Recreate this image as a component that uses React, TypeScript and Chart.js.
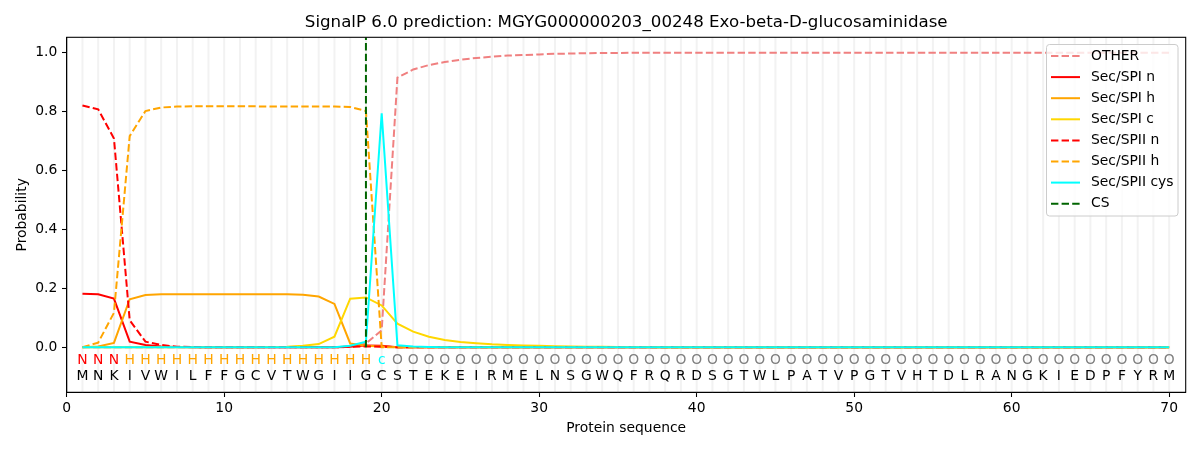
import React, { useEffect, useRef } from "react";
import { Chart, registerables } from "chart.js";

Chart.register(...registerables);

const TITLE = "SignalP 6.0 prediction: MGYG000000203_00248 Exo-beta-D-glucosaminidase";
const X_TITLE = "Protein sequence";
const Y_TITLE = "Probability";

const SEQUENCE = "MNKIVWILFFGCVTWGIIGCSTEKEIRMELNSGWQFRQRDSGTWLPATVPGTVHTDLRANGKIEDPFYRM".split("");
const REGION_LABELS = [
  "N", "N", "N",
  "H", "H", "H", "H", "H", "H", "H", "H", "H", "H", "H", "H", "H", "H", "H", "H",
  "c",
  ...Array(50).fill("O"),
];
const POSITIONS = SEQUENCE.map((_, i) => i + 1);

const X_TICKS = [0, 10, 20, 30, 40, 50, 60, 70];
const Y_TICKS = [0, 0.2, 0.4, 0.6, 0.8, 1.0];

const OTHER = [
  0, 0, 0, 0, 0, 0, 0, 0, 0, 0, 0, 0, 0, 0, 0, 0, 0, 0.001, 0.013, 0.058,
  0.914, 0.942, 0.957, 0.967, 0.975, 0.981, 0.985, 0.989, 0.991, 0.993,
  0.995, 0.996, 0.997, 0.998, 0.998, 0.999, 0.999, 0.999, 0.999, 0.999,
  0.999, 0.999, 0.999, 0.999, 0.999, 0.999, 0.999, 0.999, 0.999, 0.999,
  0.999, 0.999, 0.999, 0.999, 0.999, 0.999, 0.999, 0.999, 0.999, 0.999,
  0.999, 0.999, 0.999, 0.999, 0.999, 0.999, 0.999, 0.999, 0.999, 0.999,
];
const SPI_N = [
  0.182, 0.180, 0.165, 0.019, 0.008, 0.003, 0.001, 0, 0, 0, 0, 0, 0, 0, 0, 0, 0, 0.003, 0.006, 0.005,
  0, 0, 0, 0, 0, 0, 0, 0, 0, 0, 0, 0, 0, 0, 0, 0, 0, 0, 0, 0,
  0, 0, 0, 0, 0, 0, 0, 0, 0, 0, 0, 0, 0, 0, 0, 0, 0, 0, 0, 0,
  0, 0, 0, 0, 0, 0, 0, 0, 0, 0,
];
const SPI_H = [
  0, 0.003, 0.015, 0.163, 0.177, 0.180, 0.180, 0.180, 0.180, 0.180, 0.180, 0.180, 0.180, 0.180, 0.178, 0.172, 0.147, 0.013, 0.005, 0.003,
  0, 0, 0, 0, 0, 0, 0, 0, 0, 0, 0, 0, 0, 0, 0, 0, 0, 0, 0, 0,
  0, 0, 0, 0, 0, 0, 0, 0, 0, 0, 0, 0, 0, 0, 0, 0, 0, 0, 0, 0,
  0, 0, 0, 0, 0, 0, 0, 0, 0, 0,
];
const SPI_C = [
  0, 0, 0, 0, 0, 0, 0, 0, 0, 0, 0, 0, 0.001, 0.002, 0.005, 0.011, 0.036, 0.165, 0.169, 0.142,
  0.080, 0.053, 0.036, 0.025, 0.018, 0.014, 0.010, 0.008, 0.006, 0.005,
  0.004, 0.003, 0.002, 0.002, 0.001, 0.001, 0.001, 0, 0, 0,
  0, 0, 0, 0, 0, 0, 0, 0, 0, 0, 0, 0, 0, 0, 0, 0, 0, 0, 0, 0,
  0, 0, 0, 0, 0, 0, 0, 0, 0, 0,
];
const SPII_N = [
  0.820, 0.807, 0.708, 0.092, 0.019, 0.008, 0.002, 0.001, 0, 0, 0, 0, 0, 0, 0, 0, 0, 0.002, 0.003, 0.002,
  0, 0, 0, 0, 0, 0, 0, 0, 0, 0, 0, 0, 0, 0, 0, 0, 0, 0, 0, 0,
  0, 0, 0, 0, 0, 0, 0, 0, 0, 0, 0, 0, 0, 0, 0, 0, 0, 0, 0, 0,
  0, 0, 0, 0, 0, 0, 0, 0, 0, 0,
];
const SPII_H = [
  0, 0.016, 0.117, 0.716, 0.801, 0.813, 0.816, 0.817, 0.817, 0.817, 0.817, 0.817, 0.816, 0.816, 0.816, 0.816, 0.816, 0.815, 0.801, 0,
  0, 0, 0, 0, 0, 0, 0, 0, 0, 0, 0, 0, 0, 0, 0, 0, 0, 0, 0, 0,
  0, 0, 0, 0, 0, 0, 0, 0, 0, 0, 0, 0, 0, 0, 0, 0, 0, 0, 0, 0,
  0, 0, 0, 0, 0, 0, 0, 0, 0, 0,
];
const SPII_CYS = [
  0, 0, 0, 0, 0, 0, 0, 0, 0, 0, 0, 0, 0, 0, 0, 0, 0, 0.005, 0.019, 0.793,
  0.007, 0.003, 0.001, 0, 0, 0, 0, 0, 0, 0, 0, 0, 0, 0, 0, 0, 0, 0, 0, 0,
  0, 0, 0, 0, 0, 0, 0, 0, 0, 0, 0, 0, 0, 0, 0, 0, 0, 0, 0, 0,
  0, 0, 0, 0, 0, 0, 0, 0, 0, 0,
];
const CS_POSITION = 19;
const CS_Y = [0, 1.051];

const FONT = "'DejaVu Sans', sans-serif";
const DASH = [7.4, 3.2];
const TICK_SIZE = 13.89;

const regionColor = (l: string) =>
  l === "N" ? "#ff0000" : l === "H" ? "#ffa500" : l === "c" ? "#00ffff" : "#808080";

const series = (label: string, data: number[], color: string, dashed: boolean, order: number) => ({
  label,
  data: POSITIONS.map((x, i) => ({ x, y: data[i] })),
  borderColor: color,
  backgroundColor: color,
  borderWidth: 2,
  borderDash: dashed ? DASH : [],
  pointRadius: 0,
  fill: false,
  tension: 0,
  order,
});

export default function App() {
  const ref = useRef<HTMLCanvasElement | null>(null);

  useEffect(() => {
    const canvas = ref.current;
    if (!canvas) return;

    const decorPlugin = {
      id: "decor",
      beforeDatasetsDraw(chart: any) {
        const { ctx, chartArea, scales } = chart;
        ctx.save();
        ctx.strokeStyle = "#f2f2f2";
        ctx.lineWidth = 2;
        for (const p of POSITIONS) {
          const x = scales.x.getPixelForValue(p);
          ctx.beginPath();
          ctx.moveTo(x, chartArea.top);
          ctx.lineTo(x, chartArea.bottom);
          ctx.stroke();
        }
        ctx.restore();
      },
      afterDatasetsDraw(chart: any) {
        const { ctx, chartArea, scales } = chart;
        ctx.save();
        ctx.font = `${TICK_SIZE}px ${FONT}`;
        ctx.textAlign = "center";
        ctx.textBaseline = "middle";
        POSITIONS.forEach((p, i) => {
          const x = scales.x.getPixelForValue(p);
          ctx.fillStyle = regionColor(REGION_LABELS[i]);
          ctx.fillText(REGION_LABELS[i], x, scales.y.getPixelForValue(-0.046));
          ctx.fillStyle = "#000";
          ctx.fillText(SEQUENCE[i], x, scales.y.getPixelForValue(-0.1));
        });
        // frame
        ctx.strokeStyle = "#000";
        ctx.lineWidth = 1.07;
        ctx.strokeRect(chartArea.left, chartArea.top, chartArea.right - chartArea.left, chartArea.bottom - chartArea.top);
        // titles
        ctx.fillStyle = "#000";
        ctx.font = `16.67px ${FONT}`;
        const cx = (chartArea.left + chartArea.right) / 2;
        ctx.fillText(TITLE, cx, 23);
        ctx.font = `${TICK_SIZE}px ${FONT}`;
        ctx.fillText(X_TITLE, cx, 428);
        ctx.save();
        ctx.translate(22, (chartArea.top + chartArea.bottom) / 2);
        ctx.rotate(-Math.PI / 2);
        ctx.fillText(Y_TITLE, 0, 0);
        ctx.restore();

        // legend
        const lx = 1046.5, ly = 44.5, lw = 131.5, lh = 171.5;
        ctx.fillStyle = "rgba(255,255,255,0.8)";
        ctx.strokeStyle = "#cccccc";
        ctx.lineWidth = 1;
        ctx.beginPath();
        (ctx as any).roundRect(lx, ly, lw, lh, 3);
        ctx.fill();
        ctx.stroke();
        ctx.textAlign = "left";
        ctx.font = `${TICK_SIZE}px ${FONT}`;
        const items = [...chart.data.datasets].sort((a: any, b: any) => b.order - a.order);
        items.forEach((ds: any, i: number) => {
          const y = 56 + i * 21.1;
          ctx.strokeStyle = ds.borderColor;
          ctx.lineWidth = 2;
          ctx.setLineDash(ds.borderDash || []);
          ctx.beginPath();
          ctx.moveTo(1051, y);
          ctx.lineTo(1080, y);
          ctx.stroke();
          ctx.setLineDash([]);
          ctx.fillStyle = "#000";
          ctx.fillText(ds.label, 1091, y);
        });
        ctx.restore();
      },
    };

    const chart = new Chart(canvas, {
      type: "line",
      data: {
        datasets: [
          series("OTHER", OTHER, "#f08080", true, 7),
          series("Sec/SPI n", SPI_N, "#ff0000", false, 6),
          series("Sec/SPI h", SPI_H, "#ffa500", false, 5),
          series("Sec/SPI c", SPI_C, "#ffd700", false, 4),
          series("Sec/SPII n", SPII_N, "#ff0000", true, 3),
          series("Sec/SPII h", SPII_H, "#ffa500", true, 2),
          series("Sec/SPII cys", SPII_CYS, "#00ffff", false, 1),
          {
            label: "CS",
            data: CS_Y.map((y) => ({ x: CS_POSITION, y })),
            borderColor: "#006400",
            backgroundColor: "#006400",
            borderWidth: 2,
            borderDash: DASH,
            pointRadius: 0,
            fill: false,
            order: 0,
          },
        ] as any,
      },
      plugins: [decorPlugin],
      options: {
        animation: false,
        responsive: false,
        devicePixelRatio: 1,
        layout: { padding: { left: 0, right: 14.3, top: 37.3, bottom: 0 } },
        plugins: { legend: { display: false }, tooltip: { enabled: false }, title: { display: false } },
        scales: {
          x: {
            type: "linear",
            min: 0,
            max: 71.05,
            afterFit: (s: any) => { s.height = 57.7; },
            afterBuildTicks: (s: any) => { s.ticks = X_TICKS.map((v) => ({ value: v })); },
            ticks: { autoSkip: false, maxRotation: 0, padding: 3, color: "#000", font: { family: FONT, size: TICK_SIZE }, callback: (v: any) => String(v) },
            grid: { drawOnChartArea: false, drawTicks: true, tickLength: 4.7, tickColor: "#000", tickWidth: 1.07 },
            border: { display: true, color: "#000", width: 1.07 },
          },
          y: {
            type: "linear",
            min: -0.1525,
            max: 1.051,
            afterFit: (s: any) => { s.width = 66.7; },
            afterBuildTicks: (s: any) => { s.ticks = Y_TICKS.map((v) => ({ value: v })); },
            ticks: { autoSkip: false, padding: 4.7, color: "#000", font: { family: FONT, size: TICK_SIZE }, callback: (v: any) => Number(v).toFixed(1) },
            grid: { drawOnChartArea: false, drawTicks: true, tickLength: 4.7, tickColor: "#000", tickWidth: 1.07 },
            border: { display: true, color: "#000", width: 1.07 },
          },
        },
      } as any,
    });
    return () => chart.destroy();
  }, []);

  return (
    <div style={{ position: "fixed", left: 0, top: 0, width: 1200, height: 450, background: "#fff" }}>
      <canvas ref={ref} width={1200} height={450} style={{ width: 1200, height: 450, display: "block" }} />
    </div>
  );
}
